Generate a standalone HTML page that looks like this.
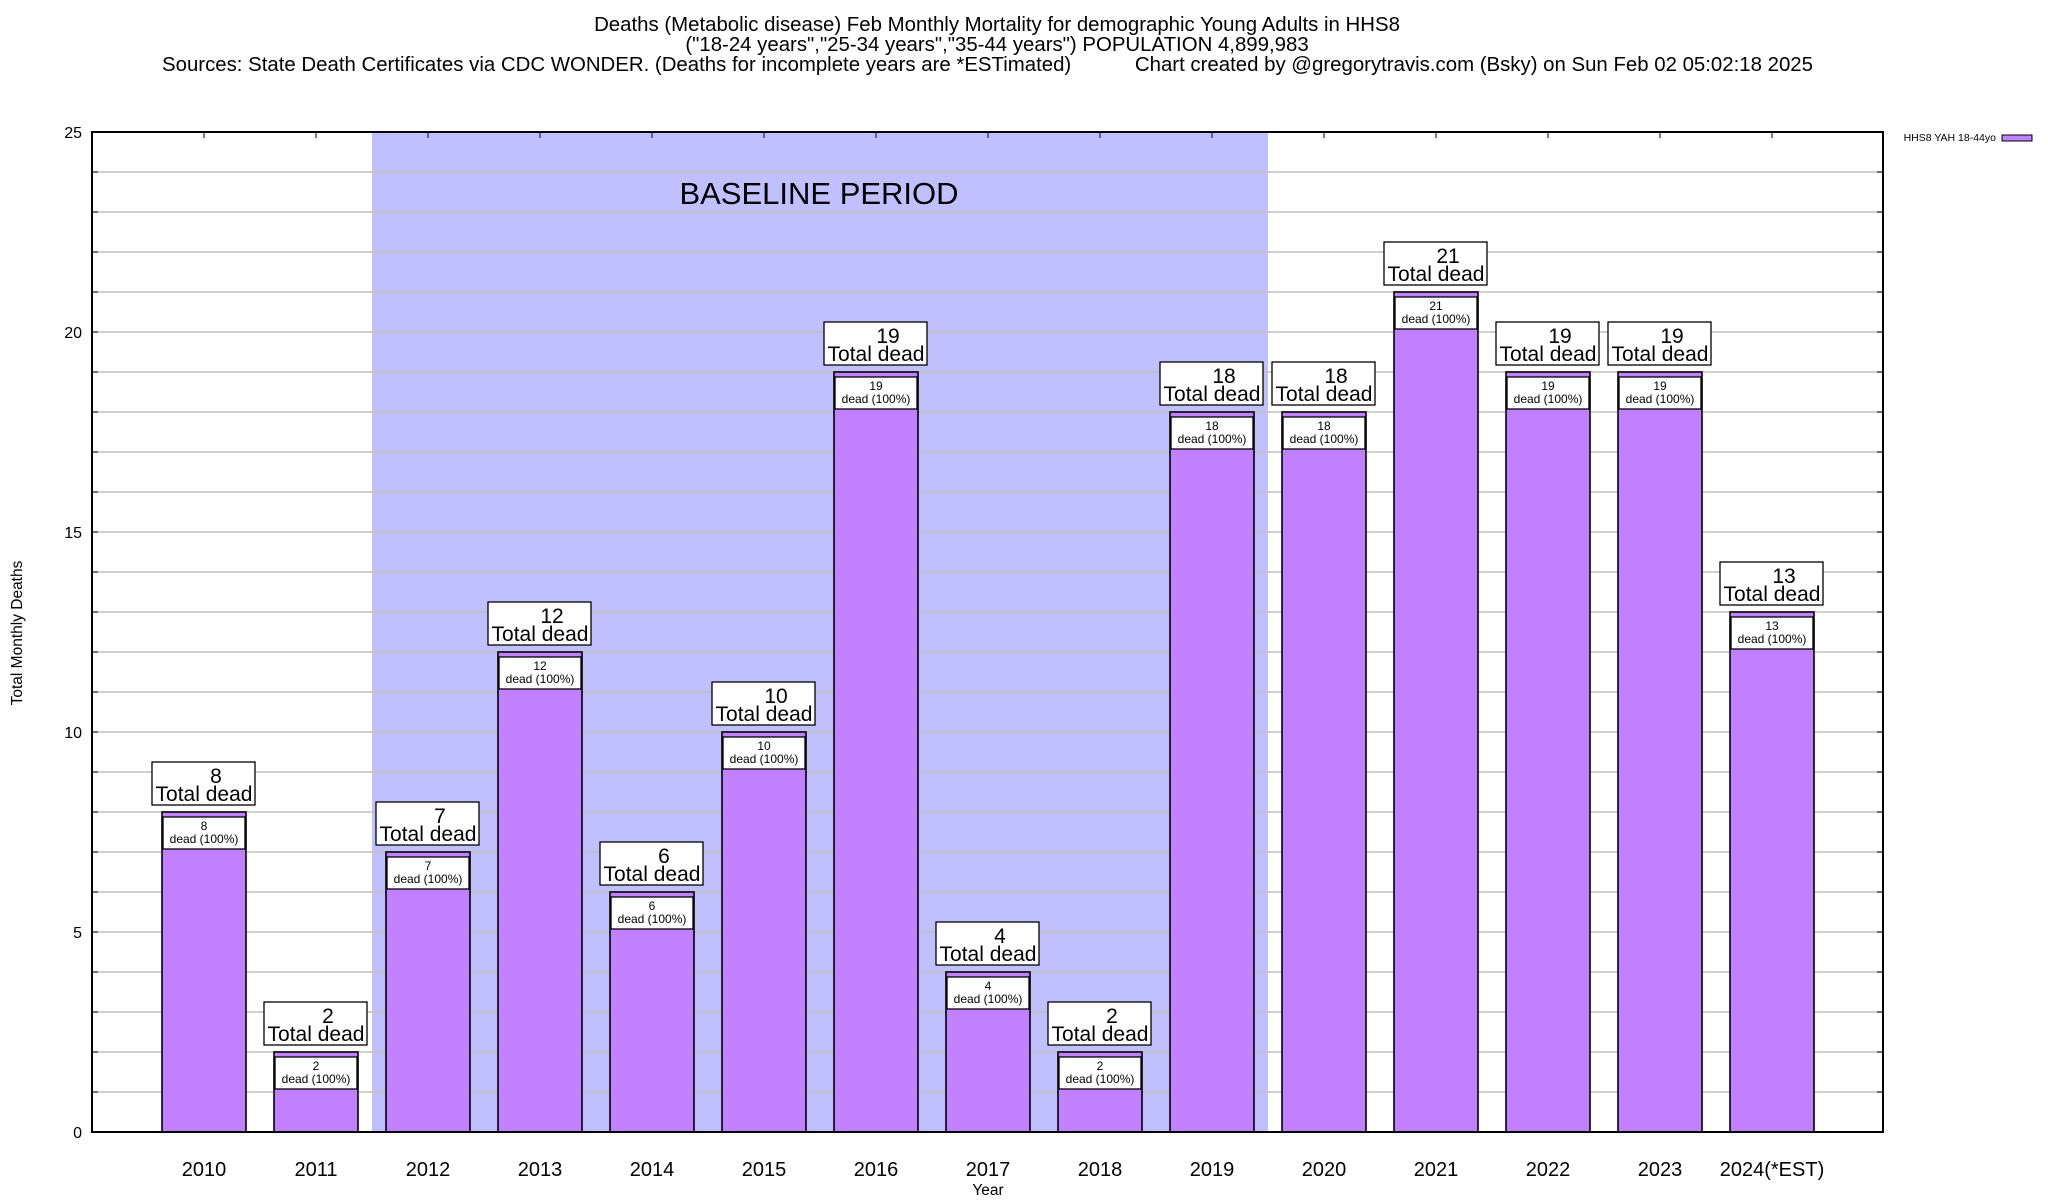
<!DOCTYPE html>
<html><head><meta charset="utf-8"><style>
body{margin:0;background:#fff;}
svg{display:block;font-family:"Liberation Sans",Arial,sans-serif;}
</style></head><body>
<svg id="chart" width="2048" height="1200" viewBox="0 0 2048 1200" xmlns="http://www.w3.org/2000/svg">
<g font-size="20.4" text-anchor="middle" fill="#000">
<text x="997" y="31">Deaths (Metabolic disease) Feb Monthly Mortality for demographic Young Adults in HHS8</text>
<text x="997" y="51">("18-24 years","25-34 years","35-44 years") POPULATION 4,899,983</text>
<text x="162" y="71" text-anchor="start">Sources: State Death Certificates via CDC WONDER. (Deaths for incomplete years are *ESTimated)</text>
<text x="1813" y="71" text-anchor="end">Chart created by @gregorytravis.com (Bsky) on Sun Feb 02 05:02:18 2025</text>
</g>
<g id="plot"></g>
<text transform="translate(22,633) rotate(-90)" font-size="15.5" text-anchor="middle">Total Monthly Deaths</text>
<text x="988" y="1195" font-size="15.5" text-anchor="middle">Year</text>
<g>
<text x="1996" y="141" font-size="10.5" text-anchor="end">HHS8 YAH 18-44yo</text>
<rect x="2002" y="135" width="30" height="6" fill="#c080ff" stroke="#000" stroke-width="1"/>
</g>
</svg>
<script>
const categories=["2010","2011","2012","2013","2014","2015","2016","2017","2018","2019","2020","2021","2022","2023","2024(*EST)"];
const values=[8,2,7,12,6,10,19,4,2,18,18,21,19,19,13];
const yTicks=[0,5,10,15,20,25];
const baselineStart=2, baselineEnd=9;
const L=92,R=1883,T=132,B=1132,yMax=25,slot=112,first=204,barW=84;
const NS="http://www.w3.org/2000/svg";
const g=document.getElementById('plot');
function y(v){return B-(B-T)*v/yMax;}
function x(i){return first+slot*i;}
function el(t,a,p){const e=document.createElementNS(NS,t);for(const k in a)e.setAttribute(k,a[k]);(p||g).appendChild(e);return e;}
let sh=el('rect',{x:x(baselineStart)-slot/2,y:T,width:(baselineEnd-baselineStart+1)*slot,height:B-T,fill:'#c0c0ff'});


for(let v=1;v<yMax;v++){let l=el('line',{x1:L,x2:R,y1:y(v),y2:y(v),stroke:'#c0c0c0','stroke-width':1.5});

}
let bt=el('text',{x:819,y:204,'font-size':31,'text-anchor':'middle'});bt.textContent='BASELINE PERIOD';


for(let v=0;v<=yMax;v++){el('line',{x1:L,x2:L+6,y1:y(v),y2:y(v),stroke:'#000','stroke-width':1});el('line',{x1:R-6,x2:R,y1:y(v),y2:y(v),stroke:'#000','stroke-width':1});}
yTicks.forEach(v=>{let t=el('text',{x:82,y:y(v)+6,'font-size':16,'text-anchor':'end'});t.textContent=v;

});
categories.forEach((c,i)=>{
 const v=values[i],cx=x(i),top=y(v);
 el('line',{x1:cx,x2:cx,y1:T,y2:T+6,stroke:'#000'});el('line',{x1:cx,x2:cx,y1:B-6,y2:B,stroke:'#000'});
 let b=el('rect',{x:cx-barW/2,y:top,width:barW,height:B-top,fill:'#c080ff',stroke:'#000','stroke-width':1.6});
 
 
 let ib=el('rect',{x:cx-41,y:top+5,width:82,height:32,fill:'#fff',stroke:'#000','stroke-width':1.3});
 
 
 let t1=el('text',{x:cx,y:top+18,'font-size':12,'text-anchor':'middle'});t1.textContent=v;
 
 
 let t2=el('text',{x:cx,y:top+31,'font-size':12,'text-anchor':'middle'});t2.textContent='dead (100%)';
 
 
 let ob=el('rect',{x:cx-52,y:top-50,width:103,height:43,fill:'#fff',stroke:'#000','stroke-width':1.3});
 
 
 let t3=el('text',{x:cx+12,y:top-29,'font-size':21,'text-anchor':'middle'});t3.textContent=v;
 
 
 let t4=el('text',{x:cx,y:top-11,'font-size':21,'text-anchor':'middle'});t4.textContent='Total dead';
 
 
 let xl=el('text',{x:cx,y:1176,'font-size':20,'text-anchor':'middle'});xl.textContent=c;
 
 
});
let fr=el('rect',{x:L,y:T,width:R-L,height:B-T,fill:'none',stroke:'#000','stroke-width':2});


</script>
</body></html>
